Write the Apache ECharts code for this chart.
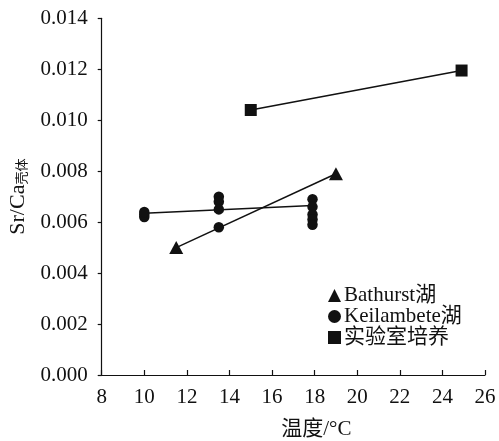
<!DOCTYPE html>
<html><head><meta charset="utf-8">
<script src="https://cdn.jsdelivr.net/npm/echarts@6/dist/echarts.min.js"></script>
<style>html,body{margin:0;padding:0;background:#fff}#c{width:499px;height:441px}</style>
</head><body><div id="c"></div>
<script>
// Data
const bathurstX = [11.5, 19.0];
const bathurstY = [0.0050, 0.0079];
const keilX = [10, 10, 10, 13.5, 13.5, 13.5, 13.5, 17.9, 17.9, 17.9, 17.9, 17.9];
const keilY = [0.0062, 0.0063, 0.0064, 0.0070, 0.0068, 0.0065, 0.0058, 0.0069, 0.0066, 0.0063, 0.0061, 0.0059];
const labX = [15, 24.9];
const labY = [0.0104, 0.01195];
// fitted lines (endpoints)
const bathFitX = [11.5, 19.0];
const bathFitY = [0.0050, 0.0079];
const keilFitX = [10, 17.9];
const keilFitY = [0.00635, 0.00665];
const labFitX = [15, 24.9];
const labFitY = [0.0104, 0.01195];
const xTicks = [8, 26, 2];
const yTicks = [0, 0.014, 0.002];
const seriesNames = ['Bathurst湖', 'Keilambete湖', '实验室培养'];

const zip = (a, b) => a.map((v, i) => [v, b[i]]);
const FONT = '"Liberation Serif", "Times New Roman", "Noto Sans CJK SC", serif';
const INK = '#111';

const chart = echarts.init(document.getElementById('c'), null, {renderer: 'canvas'});
const fitLine = (name, xs, ys) => ({
  name: name, type: 'line', data: zip(xs, ys), showSymbol: false, symbol: 'none',
  lineStyle: {color: INK, width: 1.5}, silent: true, z: 1
});
chart.setOption({
  animation: false,
  backgroundColor: '#fff',
  grid: {left: 101.7, right: 14, top: 18.3, bottom: 66, containLabel: false, outerBoundsMode: 'none'},
  legend: {
    orient: 'vertical', left: 323, top: 280, itemGap: 0,
    itemWidth: 13, itemHeight: 13,
    data: [
      {name: seriesNames[0], icon: 'triangle'},
      {name: seriesNames[1], icon: 'circle'},
      {name: seriesNames[2], icon: 'rect'}
    ],
    textStyle: {fontFamily: FONT, fontSize: 21, lineHeight: 19, color: INK, padding: [0,0,0,-2]}
  },
  xAxis: {
    type: 'value', min: xTicks[0], max: xTicks[1], interval: xTicks[2],
    name: '温度/°C', nameLocation: 'middle', nameGap: 44,
    nameTextStyle: {fontFamily: FONT, fontSize: 21, color: INK, padding: [0,0,0,46]},
    axisLine: {lineStyle: {color: INK, width: 1.2}},
    axisTick: {inside: true, length: 5, lineStyle: {color: INK, width: 1.2}},
    axisLabel: {fontFamily: FONT, fontSize: 21, color: INK, margin: 12},
    splitLine: {show: false}
  },
  yAxis: {
    type: 'value', min: yTicks[0], max: yTicks[1], interval: yTicks[2],
    name: '{m|Sr/Ca}{s|壳体}', nameLocation: 'middle', nameGap: 68,
    nameTextStyle: {
      rich: {
        m: {fontFamily: FONT, fontSize: 22, color: INK},
        s: {fontFamily: FONT, fontSize: 13, color: INK, verticalAlign: 'bottom', padding: [9,0,0,0]}
      }
    },
    axisLine: {show: true, lineStyle: {color: INK, width: 1.2}},
    axisTick: {show: true, inside: false, length: 4, lineStyle: {color: INK, width: 1.2}},
    axisLabel: {fontFamily: FONT, fontSize: 21, color: INK, margin: 14, formatter: v => v.toFixed(3)},
    splitLine: {show: false}
  },
  series: [
    fitLine('bfit', bathFitX, bathFitY),
    fitLine('kfit', keilFitX, keilFitY),
    fitLine('lfit', labFitX, labFitY),
    {name: seriesNames[0], type: 'scatter', symbol: 'triangle', symbolSize: [14, 13],
     itemStyle: {color: INK, opacity: 1}, data: zip(bathurstX, bathurstY), z: 3},
    {name: seriesNames[1], type: 'scatter', symbol: 'circle', symbolSize: 10.5,
     itemStyle: {color: INK, opacity: 1}, data: zip(keilX, keilY), z: 3},
    {name: seriesNames[2], type: 'scatter', symbol: 'rect', symbolSize: 12,
     itemStyle: {color: INK, opacity: 1}, data: zip(labX, labY), z: 3}
  ]
});
</script></body></html>
